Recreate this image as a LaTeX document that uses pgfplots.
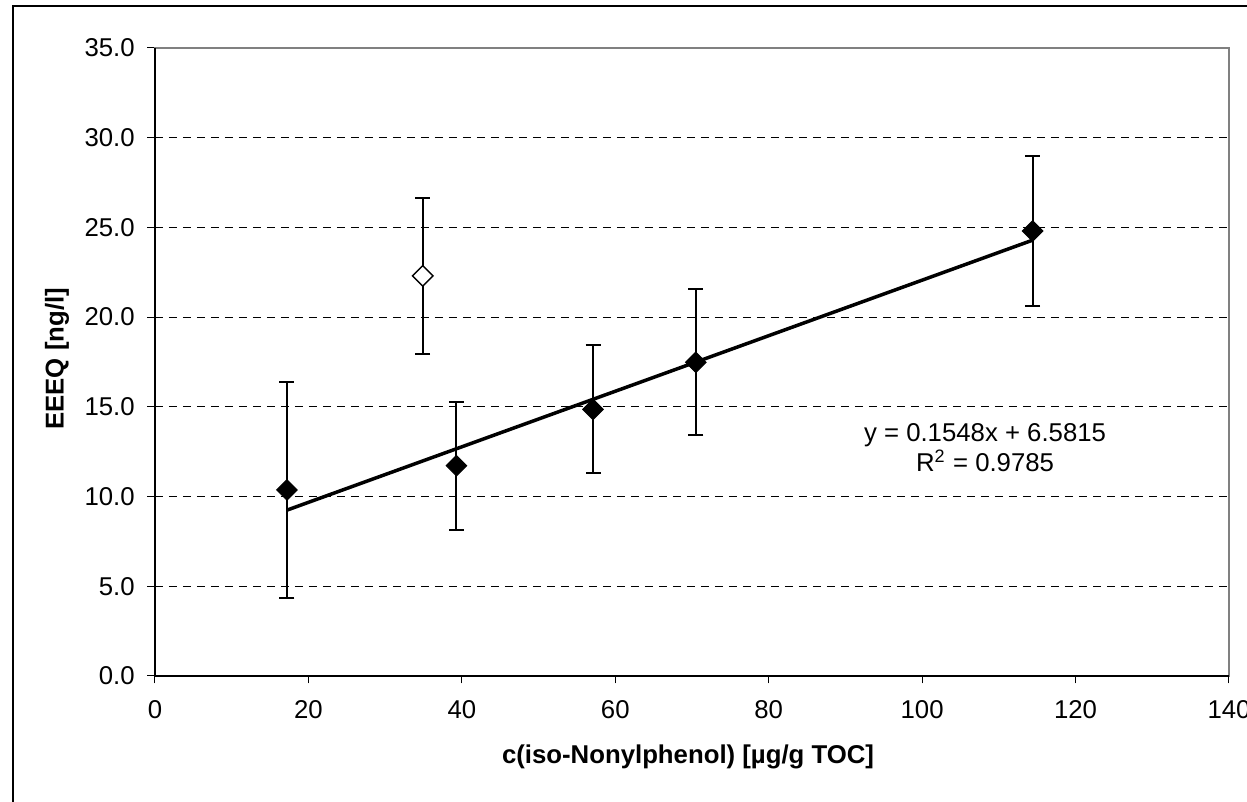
\documentclass[border=0pt]{standalone}
\usepackage{pgfplots}
\pgfplotsset{compat=1.18}
\usepackage{fontspec}
\setmainfont{Liberation Sans}
\definecolor{frameGray}{HTML}{808080}
\pgfplotstableread{
x y e
17.2 10.37 6.00
39.3 11.72 3.57
57.1 14.86 3.57
70.5 17.48 4.07
114.4 24.80 4.18
}\mainpts
\pgfplotstableread{
x y e
34.9 22.30 4.33
}\outlier
\begin{document}
\begin{tikzpicture}
\useasboundingbox (0pt,0pt) rectangle (498.8pt,320.8pt);
\draw[line width=0.8pt] (5.2pt,-20pt) -- (5.2pt,318.4pt) -- (530pt,318.4pt);
\begin{axis}[
  at={(62pt,50.4pt)}, anchor=south west,
  scale only axis, width=429.6pt, height=251.2pt,
  xmin=0, xmax=140, ymin=0, ymax=35,
  xtick={0,20,...,140}, ytick={0,5,...,35},
  xtick pos=bottom, ytick pos=left,
  tick align=outside, major tick length=3pt,
  tick style={black, line width=0.4pt},
  axis line style={frameGray, line width=0.9pt},
  ymajorgrids,
  grid style={black, line width=0.4pt, dash pattern=on 3.2pt off 2.4pt},
  /pgf/number format/assume math mode=true,
  tick label style={font=\fontsize{10.3}{12}\selectfont, black},
  yticklabel style={/pgf/number format/.cd, fixed, fixed zerofill, precision=1, /tikz/.cd, xshift=-1.6pt},
  xticklabel style={yshift=-3.3pt},
  xlabel={c(iso-Nonylphenol) [µg/g TOC]},
  ylabel={EEEQ [ng/l]},
  every axis x label/.style={at={(axis description cs:0.4963,-0.129)}, anchor=center, font=\fontsize{10.3}{12}\selectfont\bfseries},
  every axis y label/.style={at={(axis description cs:-0.0912,0.505)}, anchor=center, rotate=90, font=\fontsize{10.3}{12}\selectfont\bfseries},
  clip=false,
]
\draw[frameGray, line width=0.9pt] (axis cs:0,0) rectangle (axis cs:140,35);
\draw[black, line width=0.6pt] (axis cs:0,35) -- (axis cs:0,0) -- (axis cs:140,0);
\addplot[black, line width=1.4pt] coordinates {(17.2,9.244) (114.4,24.290)};
\addplot[only marks, mark=square*, mark size=2.9pt, mark options={rotate=45, fill=black, draw=black, line width=0.4pt},
  error bars/.cd, y dir=both, y explicit,
  error mark=|, error mark options={line width=0.8pt, mark size=3pt, black},
  error bar style={line width=0.8pt, black}]
  table[x=x, y=y, y error=e] {\mainpts};
\addplot[only marks, mark=square*, mark size=2.9pt, mark options={rotate=45, fill=white, draw=black, line width=0.6pt},
  error bars/.cd, y dir=both, y explicit,
  error mark=|, error mark options={line width=0.8pt, mark size=3pt, black},
  error bar style={line width=0.8pt, black}]
  table[x=x, y=y, y error=e] {\outlier};
\node[align=center, font=\fontsize{10.3}{12}\selectfont, inner sep=0pt] at (axis cs:108.2,12.7) {y = 0.1548x + 6.5815\\R\textsuperscript{2} = 0.9785};
\end{axis}
\end{tikzpicture}
\end{document}
